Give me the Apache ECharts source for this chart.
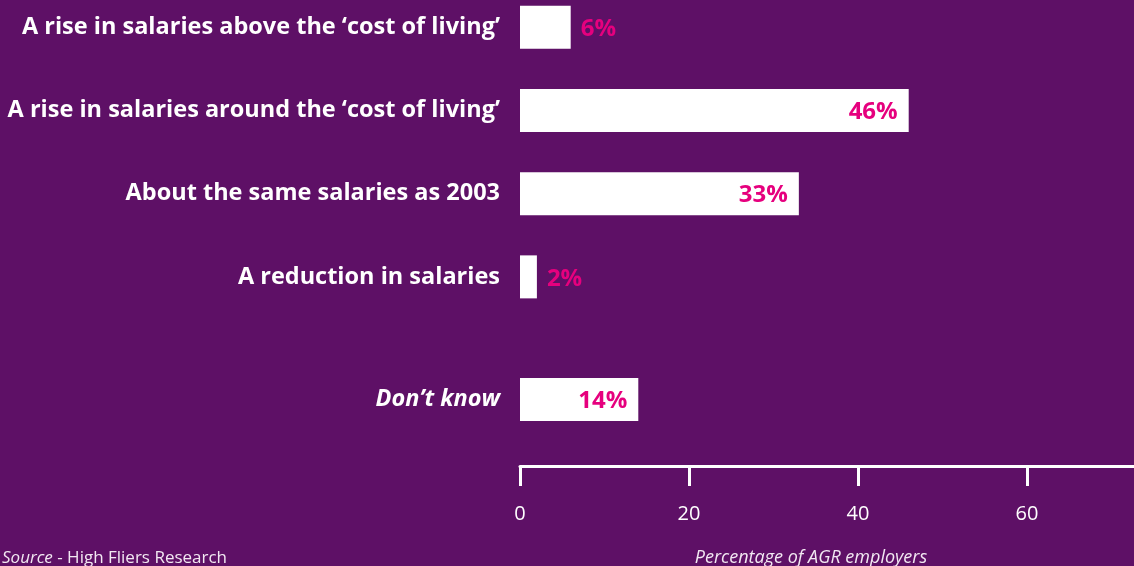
<!DOCTYPE html>
<html>
<head>
<meta charset="utf-8">
<style>
  html, body { margin: 0; padding: 0; background: #5e1066; }
  #chart { width: 1134px; height: 566px; }
</style>
<script src="https://cdn.jsdelivr.net/npm/echarts@6/dist/echarts.min.js"></script>
</head>
<body>
<div id="chart"></div>
<script>
// Salary expectations for 2004 (share of AGR employers, %)
const categories = [
  'A rise in salaries above the \u2018cost of living\u2019',
  'A rise in salaries around the \u2018cost of living\u2019',
  'About the same salaries as 2003',
  'A reduction in salaries'
];
const values = [6, 46, 33, 2];
const unsureCategory = ['Don\u2019t know'];
const unsureValues = [14];
const xTicks = [0, 20, 40, 60];

const BG = '#5e1066';
const PINK = '#e6007e';
const FONT = 'Open Sans';

function barData(vals) {
  return vals.map(v => ({
    value: v,
    label: v < 10
      ? { position: 'right', distance: 10 }
      : { position: 'insideRight', distance: 11 }
  }));
}

const labelStyle = {
  show: true,
  formatter: '{c}%',
  color: PINK,
  fontFamily: FONT,
  fontWeight: 700,
  fontSize: 24,
  offset: [0, 2]
};

const chart = echarts.init(document.getElementById('chart'));
chart.setOption({
  backgroundColor: BG,
  animation: false,
  title: [
    {
      text: 'Percentage of AGR employers',
      left: 806, top: 544,
      textAlign: 'center',
      textStyle: { color: '#f2e8f2', fontFamily: FONT, fontStyle: 'italic', fontWeight: 400, fontSize: 18 }
    },
    {
      text: '{i|Source} - High Fliers Research',
      left: -3, top: 545,
      textStyle: {
        color: '#f2e8f2', fontFamily: FONT, fontWeight: 400, fontSize: 17,
        rich: { i: { fontStyle: 'italic', color: '#f2e8f2', fontFamily: FONT, fontSize: 17 } }
      }
    }
  ],
  grid: [
    { left: 520, right: -62, top: -14.5, height: 333, outerBoundsMode: 'none', containLabel: false },
    { left: 520, right: -62, top: 358, height: 83, outerBoundsMode: 'none', containLabel: false }
  ],
  xAxis: [
    { gridIndex: 0, type: 'value', min: 0, max: 80, interval: 20, show: false },
    {
      gridIndex: 1, type: 'value', min: 0, max: 80, interval: 20,
      offset: 25,
      splitLine: { show: false },
      axisLine: { show: true, lineStyle: { color: '#ffffff', width: 3 } },
      axisTick: { show: true, length: 20, lineStyle: { color: '#ffffff', width: 3 } },
      axisLabel: {
        color: '#ffffff', fontFamily: FONT, fontSize: 20, margin: 38,
        formatter: v => xTicks.includes(v) ? String(v) : ''
      }
    }
  ],
  yAxis: [
    {
      gridIndex: 0, type: 'category', inverse: true, data: categories,
      axisLine: { show: false }, axisTick: { show: false },
      axisLabel: { color: '#ffffff', fontFamily: FONT, fontWeight: 700, fontSize: 23.5, margin: 20, padding: [4, 0, 0, 0] }
    },
    {
      gridIndex: 1, type: 'category', data: unsureCategory,
      axisLine: { show: false }, axisTick: { show: false },
      axisLabel: { color: '#ffffff', fontFamily: FONT, fontWeight: 700, fontStyle: 'italic', fontSize: 23.5, margin: 20, padding: [4, 0, 0, 0] }
    }
  ],
  series: [
    {
      type: 'bar', xAxisIndex: 0, yAxisIndex: 0,
      data: barData(values), barWidth: 43,
      itemStyle: { color: '#ffffff' },
      label: labelStyle
    },
    {
      type: 'bar', xAxisIndex: 1, yAxisIndex: 1,
      data: barData(unsureValues), barWidth: 43,
      itemStyle: { color: '#ffffff' },
      label: labelStyle
    }
  ]
});
</script>
</body>
</html>
